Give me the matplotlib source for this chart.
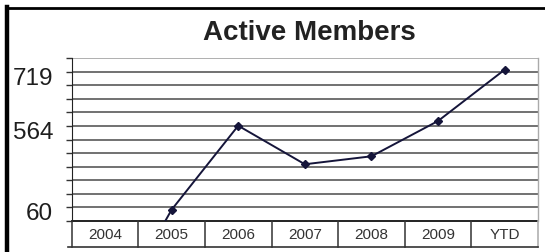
import matplotlib.pyplot as plt
import matplotlib.transforms as mtransforms
from matplotlib.lines import Line2D
import numpy as np

plt.rcParams['font.family'] = ['Liberation Sans', 'DejaVu Sans']

# categories shown in the table under the chart
years = ['2004', '2005', '2006', '2007', '2008', '2009', 'YTD']
# line values, in gridline steps (the axis labels are not a linear scale)
level = [-7.9, 0.81, 7.02, 4.17, 4.76, 7.37, 11.16]
# the only labelled gridlines and their text
label_steps = [1, 7, 11]
label_text = ['60', '564', '719']
n_grid = 12

W, H = 545, 253
fig = plt.figure(figsize=(W / 100, H / 100), dpi=100)

left, right = 71.7, 538
top, bottom, table_bottom = 59.3, 221.7, 247.5

ax = fig.add_axes([left / W, 1 - bottom / H, (right - left) / W, (bottom - top) / H])
x = np.arange(len(years))
ax.plot(x, level, color='#15153a', lw=1.4, marker='D', ms=4.5, zorder=3)
ax.set_xlim(-0.5, len(years) - 0.5)
ax.set_ylim(0, n_grid)

# horizontal gridlines at every step
for s in range(1, n_grid + 1):
    ax.axhline(s, color='#9a9a9a' if s == n_grid else '#4a4a4a', lw=1.1, zorder=1)

ax.set_yticks(range(0, n_grid + 1))
labels = [''] * (n_grid + 1)
for s, t in zip(label_steps, label_text):
    labels[s] = t
ax.set_yticklabels(labels, fontsize=17.5, color='#1e1e1e')
ax.tick_params(axis='y', length=4, width=1, color='#333333', pad=9.4)
shift = mtransforms.ScaledTranslation(0, -3.5 / 100, fig.dpi_scale_trans)
for lab in ax.get_yticklabels():
    lab.set_transform(lab.get_transform() + shift)
ax.set_xticks([])

for side in ['top', 'right']:
    ax.spines[side].set_visible(False)
ax.spines['left'].set_color('#222222')
ax.spines['bottom'].set_color('#111111')
ax.spines['bottom'].set_linewidth(1.3)

# category table under the plot
tab = fig.add_axes([left / W, 1 - table_bottom / H, (right - left) / W, (table_bottom - bottom) / H])
tab.set_xlim(0, len(years))
tab.set_ylim(0, 1)
tab.axis('off')
for i in range(len(years) + 1):
    tab.axvline(i, color='#333333' if i < len(years) else '#aaaaaa', lw=1.1, clip_on=False)
for i, yr in enumerate(years):
    tab.text(i + 0.5, 0.5, yr, ha='center', va='center', fontsize=11, color='#333333')

# table bottom edge (with the little tick stub on the left)
fig.add_artist(Line2D([(left - 4) / W, right / W], [1 - table_bottom / H] * 2, color='#333333', lw=1.2))
# light right edge of the plot
fig.add_artist(Line2D([right / W] * 2, [1 - top / H, 1 - bottom / H], color='#aaaaaa', lw=1.0))

fig.text(309 / W, 1 - 33 / H, 'Active Members', ha='center', va='center',
         fontsize=20, fontweight='bold', color='#222222')

# outer frame (left and top edges)
fig.add_artist(Line2D([7 / W, 7 / W], [0, 1 - 8 / H], color='black', lw=3.2))
fig.add_artist(Line2D([5.5 / W, 1], [1 - 9 / H, 1 - 9 / H], color='black', lw=2.0))

fig.savefig('out.png', dpi=100)
